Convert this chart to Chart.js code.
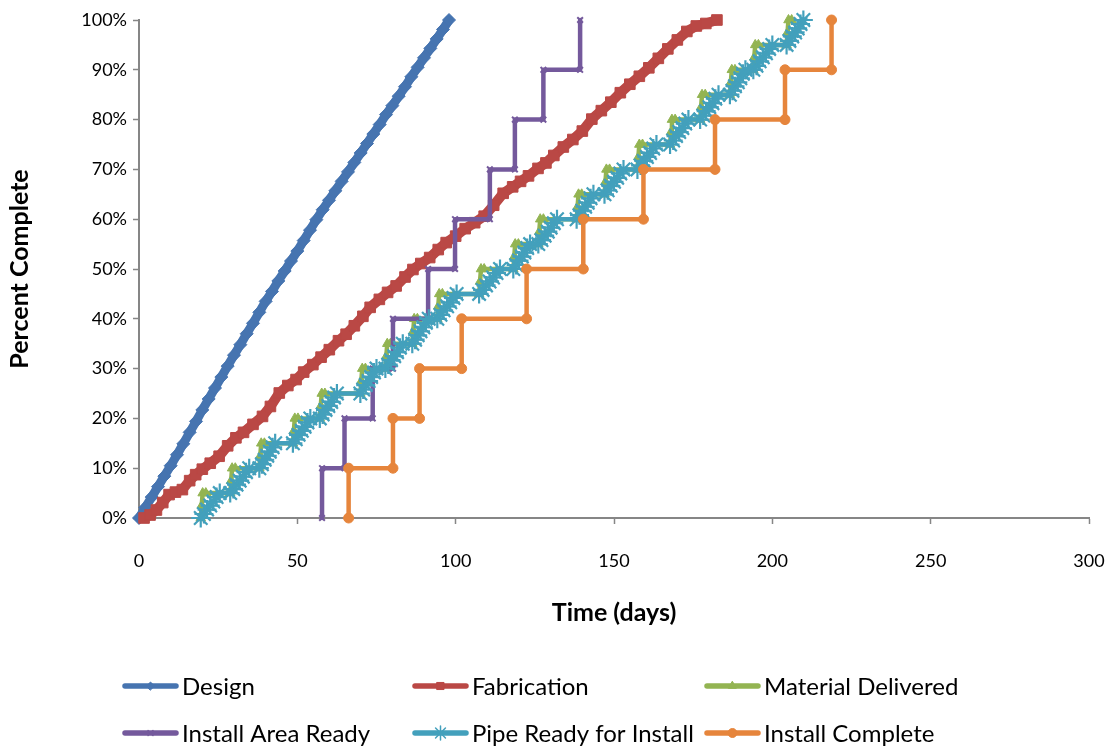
<!DOCTYPE html>
<html>
<head>
<meta charset="utf-8">
<script src="https://cdn.jsdelivr.net/npm/chart.js@4/dist/chart.umd.min.js"></script>
<style>
html,body{margin:0;padding:0;background:#fff;}
canvas{display:block;}
</style>
</head>
<body>
<canvas id="c" width="1118" height="751"></canvas>
<script>
// ---- Data (days, percent complete) ----
const seriesNames = ["Design", "Fabrication", "Material Delivered", "Install Area Ready", "Pipe Ready for Install", "Install Complete"];
const xTicks = [0, 50, 100, 150, 200, 250, 300];
const yTicks = [0, 10, 20, 30, 40, 50, 60, 70, 80, 90, 100];

const designDays = [0,2,4,6,8,10,12,14,16,18,20,22,24,26,28,30,32,34,36,38,40,42,44,46,48,50,52,54,56,58,60,62,64,66,68,70,72,74,76,78,80,82,84,86,88,90,92,94,96,97.9];
const designPct  = [0,2.1,4.2,6.3,8.4,10.5,12.7,14.9,17.2,19.4,21.7,23.9,26.1,28.3,30.5,32.7,34.8,37.0,39.1,41.3,43.5,45.5,47.6,49.6,51.6,53.6,55.7,57.8,59.9,61.9,63.8,65.7,67.6,69.5,71.4,73.3,75.2,77.1,79.0,81.0,82.8,84.7,86.6,88.6,90.5,92.4,94.3,96.2,98.1,100];

const fabDays = [1.6,3.5,5.5,7.5,9.5,11.5,13.7,16,17.9,20,22.5,25.3,28,30.6,33,36,39,41.5,44.3,47,49.6,52,54.9,57.5,60.1,63,65.4,68,70.7,73,75.9,78.5,81.2,84,86.5,89,91.8,94.5,97,100,103,106,109,112,115,118,120.5,123,126,128.5,131,134,137,140,143,146,149,152,155,158,161,164,167,170,173,176,179,182.5];
const fabPct  = [0,0.6,1.6,3.1,4.7,5.2,5.7,7.5,8.7,9.8,11,12.4,14.5,16.1,17.2,18.8,20.4,22.4,25.1,26.6,27.8,29.3,30.8,32.3,33.8,35.6,36.9,38.6,40.5,42.3,43.9,45.3,46.6,48.4,49.9,51.1,52.3,53.9,55.3,56.6,58.1,59.3,60.6,62.8,65.2,66.5,67.6,68.7,70.2,71.3,72.8,74.5,76,77.7,80.1,81.8,83.5,85.4,87.1,88.7,90.4,92.3,94.2,96,97.7,98.8,99.3,100];

const matDays = [19.5,19.8,20.1,21.1, 28.8,29.1,29.4,30.4, 38,38.3,38.6,39.6, 48.6,48.9,49.2,50.2, 57.1,57.4,57.7,58.7, 69.9,70.2,70.5,71.5, 77.8,78.1,78.4,79.4, 86.3,86.6,86.9,87.9, 94.2,94.5,94.8,95.8, 107.4,107.7,108,109, 118.2,118.5,118.8,119.8, 126.1,126.4,126.7,127.7, 138.2,138.5,138.8,139.8, 147,147.3,147.6,148.6, 157.4,157.7,158,159, 167.7,168,168.3,169.3, 177.2,177.5,177.8,178.8, 186.6,186.9,187.2,188.2, 194,194.3,194.6,195.6, 204.5,204.8,205.1,206.1];
const matPct  = [0,2.5,5,5, 5,7.5,10,10, 10,12.5,15,15, 15,17.5,20,20, 20,22.5,25,25, 25,27.5,30,30, 30,32.5,35,35, 35,37.5,40,40, 40,42.5,45,45, 45,47.5,50,50, 50,52.5,55,55, 55,57.5,60,60, 60,62.5,65,65, 65,67.5,70,70, 70,72.5,75,75, 75,77.5,80,80, 80,82.5,85,85, 85,87.5,90,90, 90,92.5,95,95, 95,97.5,100,100];

const areaDays = [57.8,57.8,64.9,64.9,73.8,73.8,80.2,80.2,91.3,91.3,99.8,99.8,110.8,110.8,118.7,118.7,127.7,127.7,139.3,139.3];
const areaPct  = [0,10,10,20,20,30,30,40,40,50,50,60,60,70,70,80,80,90,90,100];

const pipeDays = [
  19.5,20.5,21.5,22.5,23.5,24.5,25.5,
  28.8,29.8,30.8,31.8,32.8,33.8,34.8,
  38,38.8,39.7,40.5,41.3,42.2,43,
  48.6,49.5,50.4,51.4,52.3,53.2,54.1,
  57.1,58,58.9,59.8,60.7,61.6,62.5,
  69.9,70.8,71.6,72.5,73.3,74.2,75,
  77.8,78.7,79.6,80.6,81.5,82.4,83.3,
  86.3,87.2,88,88.9,89.8,90.6,91.5,
  94.2,95.2,96.2,97.3,98.3,99.3,100.3,
  107.4,108.5,109.6,110.7,111.8,112.9,114,
  118.2,119.1,120,120.9,121.7,122.6,123.5,
  126.1,127.1,128.1,129.1,130,131,132,
  138.2,139.1,140,140.9,141.7,142.6,143.5,
  147,148,149,150,151,152,153,
  157.4,158.4,159.4,160.4,161.4,162.4,163.4,
  167.7,168.7,169.6,170.6,171.6,172.5,173.5,
  177.2,178.2,179.1,180.1,181.1,182,183,
  186.6,187.4,188.2,189.1,189.9,190.7,191.5,
  194,195,196,197,198,199,200,
  204.5,205.4,206.3,207.2,208,208.9,209.8];
const pipePct = [
  0,0.8,1.7,2.5,3.3,4.2,5,
  5,5.8,6.7,7.5,8.3,9.2,10,
  10,10.8,11.7,12.5,13.3,14.2,15,
  15,15.8,16.7,17.5,18.3,19.2,20,
  20,20.8,21.7,22.5,23.3,24.2,25,
  25,25.8,26.7,27.5,28.3,29.2,30,
  30,30.8,31.7,32.5,33.3,34.2,35,
  35,35.8,36.7,37.5,38.3,39.2,40,
  40,40.8,41.7,42.5,43.3,44.2,45,
  45,45.8,46.7,47.5,48.3,49.2,50,
  50,50.8,51.7,52.5,53.3,54.2,55,
  55,55.8,56.7,57.5,58.3,59.2,60,
  60,60.8,61.7,62.5,63.3,64.2,65,
  65,65.8,66.7,67.5,68.3,69.2,70,
  70,70.8,71.7,72.5,73.3,74.2,75,
  75,75.8,76.7,77.5,78.3,79.2,80,
  80,80.8,81.7,82.5,83.3,84.2,85,
  85,85.8,86.7,87.5,88.3,89.2,90,
  90,90.8,91.7,92.5,93.3,94.2,95,
  95,95.8,96.7,97.5,98.3,99.2,100];

const doneDays = [66.2,66.2,80.2,80.2,88.6,88.6,101.9,101.9,122.4,122.4,140.3,140.3,159.3,159.3,181.9,181.9,204,204,218.7,218.7];
const donePct  = [0,10,10,20,20,30,30,40,40,50,50,60,60,70,70,80,80,90,90,100];

// ---- Build ----
const pts = (xs, ys) => xs.map((x, i) => ({x: x, y: ys[i]}));
const FONT = "Lato, 'Liberation Sans', sans-serif";
const AXIS = '#868686';

const styles = [
  {color:'#4674B0', pointStyle:'rectRot',  radius:6.5, lw:9,   pbw:1,   order:6, legR:4,   legBW:1},
  {color:'#BA4845', pointStyle:'rect',     radius:7.5, lw:10,  pbw:1,   order:5, legR:5,   legBW:1},
  {color:'#93B452', pointStyle:'triangle', radius:5.5, lw:4.5, pbw:1,   order:4, legR:4.5, legBW:1},
  {color:'#74599C', pointStyle:'crossRot', radius:4,   lw:4.5, pbw:2,   order:3, legR:3.5, legBW:1.5},
  {color:'#43A0BC', pointStyle:'star',     radius:9.5, lw:4.5, pbw:2.2, order:2, legR:7,   legBW:1.5},
  {color:'#E6853C', pointStyle:'circle',   radius:5,   lw:4.5, pbw:1,   order:1, legR:4.5, legBW:1}
];
const dataSets = [
  pts(designDays, designPct),
  pts(fabDays, fabPct),
  pts(matDays, matPct),
  pts(areaDays, areaPct),
  pts(pipeDays, pipePct),
  pts(doneDays, donePct)
];

const datasets = seriesNames.map((name, i) => ({
  label: name,
  data: dataSets[i],
  showLine: true,
  borderColor: styles[i].color,
  backgroundColor: styles[i].color,
  borderWidth: styles[i].lw,
  borderCapStyle: 'round',
  borderJoinStyle: 'round',
  pointStyle: styles[i].pointStyle,
  pointRadius: styles[i].radius,
  pointHoverRadius: styles[i].radius,
  pointBorderWidth: styles[i].pbw,
  pointBorderColor: styles[i].color,
  pointBackgroundColor: styles[i].color,
  tension: 0,
  order: styles[i].order,
  clip: false
}));

const gridLegend = {
  id: 'gridLegend',
  afterDraw(chart) {
    const ctx = chart.ctx;
    const cols = [123, 413, 705];
    const rows = [686, 733];
    chart.data.datasets.forEach((ds, i) => {
      const st = styles[i];
      const x = cols[i % 3], y = rows[Math.floor(i / 3)];
      ctx.save();
      ctx.strokeStyle = st.color;
      ctx.lineWidth = 5.5;
      ctx.lineCap = 'round';
      ctx.beginPath();
      ctx.moveTo(x + 2, y);
      ctx.lineTo(x + 53, y);
      ctx.stroke();
      ctx.fillStyle = st.color;
      ctx.strokeStyle = st.color;
      ctx.lineWidth = st.legBW;
      Chart.helpers.drawPoint(ctx, {pointStyle: st.pointStyle, radius: st.legR, borderWidth: st.legBW, rotation: 0}, x + 27.5, y);
      ctx.fillStyle = '#000';
      ctx.font = "24px " + FONT;
      ctx.textBaseline = 'middle';
      ctx.textAlign = 'left';
      ctx.fillText(ds.label, x + 59, y + 1);
      ctx.restore();
    });
  }
};

new Chart(document.getElementById('c'), {
  type: 'scatter',
  data: {datasets: datasets},
  options: {
    responsive: false,
    animation: false,
    events: [],
    layout: {padding: {left: 0, top: 20, right: 29, bottom: 118}},
    plugins: {legend: {display: false}, tooltip: {enabled: false}},
    scales: {
      x: {
        type: 'linear', min: 0, max: 300,
        afterBuildTicks: (s) => { s.ticks = xTicks.map(v => ({value: v})); },
        ticks: {color: '#000', font: {family: FONT, size: 18}, padding: 26, maxRotation: 0},
        grid: {display: true, drawOnChartArea: false, drawTicks: true, tickLength: 6, tickColor: AXIS, tickWidth: 1.5},
        border: {display: true, color: AXIS, width: 2},
        title: {display: true, text: 'Time (days)', color: '#000', font: {family: FONT, size: 25, weight: 'bold'}, padding: {top: 5, bottom: 5}},
        afterFit: (s) => { s.height = 115; s.paddingRight = 15; s.paddingLeft = 15; }
      },
      y: {
        type: 'linear', min: 0, max: 100,
        afterBuildTicks: (s) => { s.ticks = yTicks.map(v => ({value: v})); },
        ticks: {color: '#000', font: {family: FONT, size: 18}, padding: 6, callback: (v) => v + '%'},
        grid: {display: true, drawOnChartArea: false, drawTicks: true, tickLength: 6, tickColor: AXIS, tickWidth: 1.5},
        border: {display: true, color: AXIS, width: 2},
        title: {display: true, text: 'Percent Complete', color: '#000', font: {family: FONT, size: 25, weight: 'bold'}, padding: {top: 5, bottom: 5}},
        afterFit: (s) => { s.width = 139; }
      }
    }
  },
  plugins: [gridLegend]
});
</script>
</body>
</html>
